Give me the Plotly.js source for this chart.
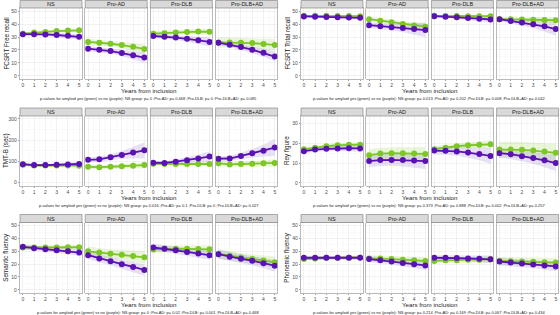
<!DOCTYPE html>
<html><head><meta charset="utf-8">
<script src="https://cdn.plot.ly/plotly-3.0.1.min.js"></script>
<style>html,body{margin:0;padding:0;background:#fff;}#chart{width:560px;height:315px;}</style>
</head><body><div id="chart"></div>
<script>
// ---------------- DATA ----------------
const years = [0, 1, 2, 3, 4, 5];
const facets = ["NS", "Pro-AD", "Pro-DLB", "Pro-DLB+AD"];
const pFacetNames = ["NS group", "Pro-AD", "Pro-DLB", "Pro-DLB+AD"];
const measures = ["FCSRT Free recall", "FCSRT Total recall", "TMT-B (sec)", "Rey figure", "Semantic fluency", "Phonemic fluency"];
const xTitle = "Years from inclusion";
const pPrefix = "p-values for amyloid yes (green) vs no (purple): ";
const pValues = [
  ["0", "0.468", "0", "0.085"],
  ["0.013", "0.202", "0.008", "0.042"],
  ["0.016", "0.1", "0", "0.027"],
  ["0.373", "0.888", "0.002", "0.257"],
  ["0", "0.02", "0.001", "0.468"],
  ["0.214", "0.169", "0.067", "0.434"]
];
const yTickStep = [10, 10, 100, 10, 10, 10];
const yRanges = [[-2.5, 52.5], [-2.5, 52.5], [-17, 314], [-1.6, 33.8], [-2.5, 52.5], [-2.5, 52.5]];

// FCSRT Free recall
const freeRecallYes = [[32.6,33.5,34,34.6,35,35.2],[26.2,25.6,24.8,23.8,22.4,20.8],[32.6,33,33.6,34,34.2,34.1],[25.8,25.8,25.6,25.3,24.7,23.8]];
const freeRecallNo  = [[32.2,32.2,32,31.6,31,30.2],[21,20.2,19.1,17.6,15.9,14.1],[30.8,30.3,29.6,28.6,27.5,26.2],[25.6,24,22.2,20.2,17.8,14.9]];
const freeRecallYesCI = [[1.2,1,1,1,1.2,1.5],[2.5,2.3,2.2,2.5,3,3.6],[2,1.8,1.8,1.8,2,2.3],[4,3.8,3.6,3.6,4,4.6]];
const freeRecallNoCI  = [[1.2,1.2,1.3,1.5,1.8,2.2],[2,2,2.1,2.5,3.1,4],[1.5,1.5,1.8,2.2,2.8,3.6],[2,2,2.2,2.6,3.1,3.8]];
// FCSRT Total recall
const totalRecallYes = [[46.4,46.4,46.4,46.3,46.3,46.2],[43.8,42.6,41.4,40.2,39,38],[46.4,46.3,46.3,46.2,46.2,46.1],[43.8,43.8,43.6,43.4,43.2,43]];
const totalRecallNo  = [[46,45.8,45.6,45.4,45.2,44.9],[39.2,38.4,37.6,37,36.2,35.4],[46.2,45.8,45.3,44.8,44.2,43.6],[43.8,42.4,41.2,39.9,38.3,36.2]];
const totalRecallYesCI = [[0.7,0.6,0.6,0.6,0.7,0.9],[2,1.9,1.9,2,2.4,3],[0.8,0.7,0.7,0.7,0.8,1],[2,1.9,1.9,1.9,2,2.5]];
const totalRecallNoCI  = [[0.8,0.7,0.7,0.8,1,1.2],[2,2.1,2.5,3.1,4.2,5.6],[1,1,1.2,1.5,2,2.6],[1.6,1.8,2.2,3,4,5.2]];
// TMT-B (sec)
const tmtYes = [[84,80,80,80,80,79],[74,72,74,76,79,82],[88,87,87,87,87,87],[90,85,87,88,90,92]];
const tmtNo  = [[86,82,82,83,85,87],[107,109,119,130,141,152],[93,92,98,105,113,122],[112,113,125,138,150,165]];
const tmtYesCI = [[8,6,6,6,7,8],[12,10,10,10,12,15],[8,7,7,7,8,10],[15,12,12,13,15,18]];
const tmtNoCI  = [[6,5,5,6,7,9],[12,12,14,18,27,38],[8,8,10,13,18,25],[12,12,15,20,28,40]];
// Rey figure
const reyYes = [[17,17.8,18.5,19,19.2,19.3],[14,14.8,15,15,14.8,14.6],[17,17.8,18.5,19,19.3,19.5],[16.8,16.9,16.7,16.3,15.8,15.2]];
const reyNo  = [[16,16.8,17.2,17.4,17.5,17.4],[11,11.5,11.6,11.5,11.3,11],[16.3,16.2,15.9,15.3,14.6,13.6],[15,14.5,13.5,12.6,11.4,10]];
const reyYesCI = [[1,0.9,0.9,1,1.1,1.3],[3,3,3,3,3.2,3.5],[1.5,1.4,1.4,1.5,1.7,2],[4,4,4,4,4.2,4.5]];
const reyNoCI  = [[1.2,1.1,1.1,1.2,1.4,1.7],[3,3,3,3.2,3.5,4],[2,2,2.2,2.6,3.2,4],[2.5,2.5,2.7,3,3.5,4.2]];
// Semantic fluency
const semanticYes = [[33,33,33,33,33.2,33.2],[30,29,28.2,27.3,26.3,25.3],[31.5,32,32,32,31.8,31.6],[28,26.5,25.2,24,22.8,21.5]];
const semanticNo  = [[33.5,32.5,31.7,30.8,30,29],[27,24.5,22.3,20,17.8,15.5],[33,32,30.8,29.5,28.3,27],[27.8,25.8,24.2,22.7,20.8,18.8]];
const semanticYesCI = [[2,1.5,1.5,1.5,1.6,1.8],[4,3.5,3.5,3.8,4.2,5],[3,2.5,2.5,2.5,2.8,3],[4,3.5,3.5,3.5,4,4.5]];
const semanticNoCI  = [[2,1.8,1.8,2,2.2,2.5],[3,3,3.2,3.5,4,4.5],[3,2.8,2.8,3,3.2,3.5],[3.5,3.5,3.5,3.5,4,4.5]];
// Phonemic fluency
const phonemicYes = [[24,24.5,25,25,25,25.2],[24.5,24.5,24,23.5,23,22.5],[22.5,23,23,23.5,23.5,23.8],[22.5,22.3,22,21.8,21.5,21.2]];
const phonemicNo  = [[25,25,25,25,25,25],[24,23,22,21,20,19],[25,25,24.8,24.5,24.2,23.8],[22,21.3,20.6,19.8,19,18.2]];
const phonemicYesCI = [[1.5,1.2,1.2,1.2,1.3,1.5],[2.5,2.3,2.3,2.5,2.8,3],[2,2,2,2,2.2,2.5],[3,3,3,3,3,3.5]];
const phonemicNoCI  = [[1.5,1.2,1.2,1.2,1.3,1.5],[2.5,2.3,2.3,2.5,3,3.5],[2,2,2,2.2,2.5,3],[3,3,3,3,3,3.5]];

const seriesYes = [freeRecallYes, totalRecallYes, tmtYes, reyYes, semanticYes, phonemicYes];
const seriesNo = [freeRecallNo, totalRecallNo, tmtNo, reyNo, semanticNo, phonemicNo];
const ciYes = [freeRecallYesCI, totalRecallYesCI, tmtYesCI, reyYesCI, semanticYesCI, phonemicYesCI];
const ciNo = [freeRecallNoCI, totalRecallNoCI, tmtNoCI, reyNoCI, semanticNoCI, phonemicNoCI];

// ---------------- STYLE / LAYOUT ----------------
const W = 560, H = 315;
const GREEN = '#7DC725', PURPLE = '#5A12B4';
const GREEN_FILL = 'rgba(125,199,37,0.17)', PURPLE_FILL = 'rgba(95,40,185,0.14)';
const colX0 = [20, 301], facetW = 62, facetGap = 3.2;
const rowStripTop = [0, 107.5, 214], rowPlotTop = [8, 116, 222.5], rowPlotBot = [79, 186, 293];
const FONT = 'Liberation Sans, Arial, sans-serif';
const px = v => v / W, py = v => 1 - v / H;

const traces = [];
const layout = {
  width: W, height: H, margin: {l: 0, r: 0, t: 0, b: 0},
  paper_bgcolor: '#fff', plot_bgcolor: '#fff', showlegend: false,
  font: {family: FONT, color: '#1a1a1a'},
  shapes: [], annotations: []
};

for (let g = 0; g < 6; g++) {
  const r = Math.floor(g / 2), c = g % 2;
  for (let f = 0; f < 4; f++) {
    const k = g * 4 + f + 1;
    const xs = k === 1 ? 'x' : 'x' + k, ys = k === 1 ? 'y' : 'y' + k;
    const x0 = colX0[c] + f * (facetW + facetGap), x1 = x0 + facetW;
    const yes = seriesYes[g][f], no = seriesNo[g][f];
    const cy = ciYes[g][f], cn = ciNo[g][f];
    const band = (m, ci, fill) => ({
      type: 'scatter', mode: 'lines', xaxis: xs, yaxis: ys, hoverinfo: 'skip',
      x: years.concat(years.slice().reverse()),
      y: m.map((v, i) => v + ci[i]).concat(m.map((v, i) => v - ci[i]).reverse()),
      fill: 'toself', fillcolor: fill, line: {width: 0}
    });
    traces.push(band(yes, cy, GREEN_FILL));
    traces.push(band(no, cn, PURPLE_FILL));
    traces.push({type: 'scatter', mode: 'lines+markers', xaxis: xs, yaxis: ys, x: years, y: yes,
      line: {color: GREEN, width: 1.8}, marker: {color: GREEN, size: 6}});
    traces.push({type: 'scatter', mode: 'lines+markers', xaxis: xs, yaxis: ys, x: years, y: no,
      line: {color: PURPLE, width: 1.8}, marker: {color: PURPLE, size: 6}});

    const common = {
      showline: true, mirror: true, linecolor: '#8c8c8c', linewidth: 0.6,
      zeroline: false, fixedrange: true,
      showgrid: true, gridcolor: '#E6E6E6', gridwidth: 0.5,
      tickfont: {size: 5, color: '#4d4d4d', family: FONT},
      ticklen: 1.5, tickwidth: 0.5, tickcolor: '#333'
    };
    layout['xaxis' + k] = Object.assign({}, common, {
      domain: [px(x0), px(x1)], anchor: ys, range: [-0.25, 5.25],
      tickmode: 'linear', tick0: 0, dtick: 1, ticks: 'outside',
      minor: {dtick: 0.5, tick0: 0, showgrid: true, gridcolor: '#F2F2F2', gridwidth: 0.4}
    });
    layout['yaxis' + k] = Object.assign({}, common, {
      domain: [py(rowPlotBot[r]), py(rowPlotTop[r])], anchor: xs, range: yRanges[g],
      tickmode: 'linear', tick0: 0, dtick: yTickStep[g],
      ticks: f === 0 ? 'outside' : '', showticklabels: f === 0,
      minor: {dtick: yTickStep[g] / 2, tick0: 0, showgrid: true, gridcolor: '#F2F2F2', gridwidth: 0.4}
    });
    // strip
    layout.shapes.push({type: 'rect', xref: 'paper', yref: 'paper',
      x0: px(x0), x1: px(x1), y0: py(rowPlotTop[r]), y1: py(rowStripTop[r] + 0.5),
      fillcolor: '#D9D9D9', line: {color: '#7a7a7a', width: 0.6}, layer: 'above'});
    layout.annotations.push({xref: 'paper', yref: 'paper', x: px((x0 + x1) / 2),
      y: py((rowStripTop[r] + rowPlotTop[r]) / 2 + 0.3), text: facets[f], showarrow: false,
      xanchor: 'center', yanchor: 'middle', font: {size: 5.5, color: '#1a1a1a', family: FONT}});
  }
  const xL = colX0[c], xR = colX0[c] + 4 * facetW + 3 * facetGap;
  // y title
  layout.annotations.push({xref: 'paper', yref: 'paper', x: px(c === 0 ? 6 : 287),
    y: py((rowPlotTop[r] + rowPlotBot[r]) / 2), text: measures[g], textangle: -90, showarrow: false,
    xanchor: 'center', yanchor: 'middle', font: {size: 6.3, color: '#1a1a1a', family: FONT}});
  // x title
  layout.annotations.push({xref: 'paper', yref: 'paper', x: px((xL + xR) / 2),
    y: py(rowPlotBot[r] + 11.8), text: xTitle, showarrow: false,
    xanchor: 'center', yanchor: 'middle', font: {size: 6.2, color: '#1a1a1a', family: FONT}});
  // p-values caption
  const pText = pPrefix + pFacetNames.map((n, i) => n + ': p= ' + pValues[g][i]).join(' ;');
  layout.annotations.push({xref: 'paper', yref: 'paper', x: px((xL + xR) / 2),
    y: py(rowPlotBot[r] + 19.3), text: pText, showarrow: false,
    xanchor: 'center', yanchor: 'middle', font: {size: 4, color: '#1a1a1a', family: FONT}});
}

Plotly.newPlot('chart', traces, layout, {staticPlot: true, displayModeBar: false});
</script>
</body></html>
